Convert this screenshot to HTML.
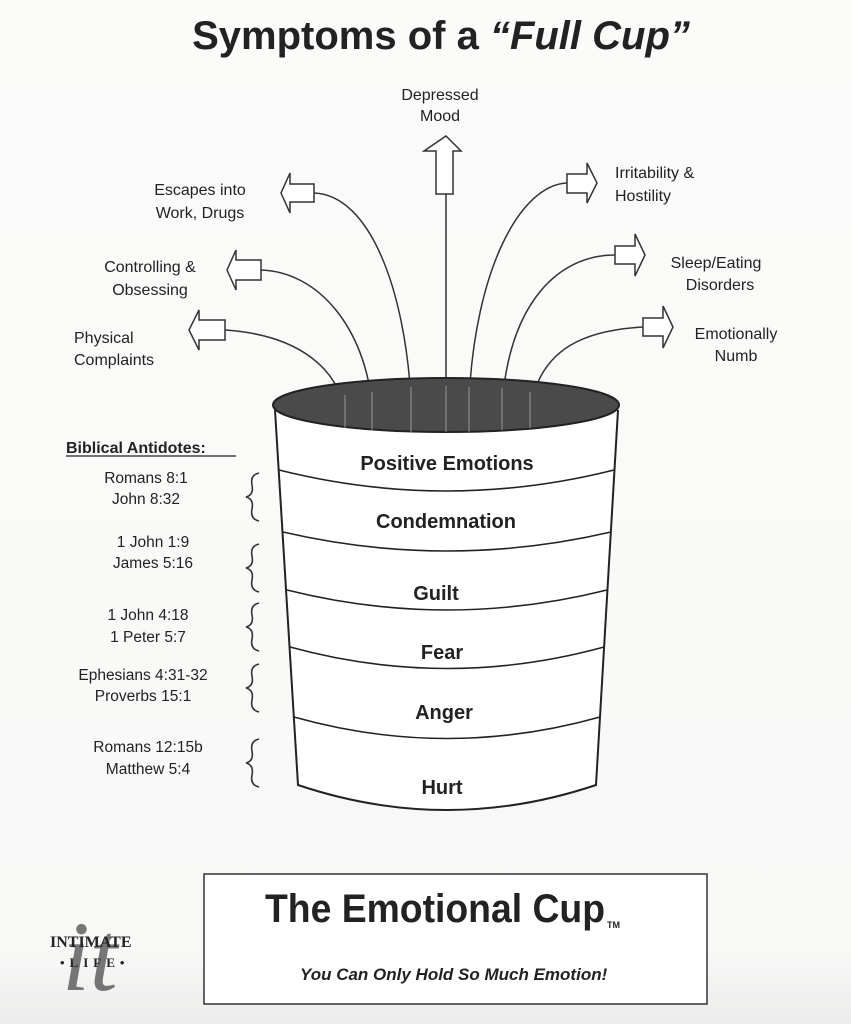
<!DOCTYPE html>
<html><head><meta charset="utf-8"><style>
html,body{margin:0;padding:0;background:#fbfbfa;}
svg{display:block;}
text{font-family:"Liberation Sans",Arial,sans-serif;fill:#222;}
</style></head><body>
<svg width="851" height="1024" viewBox="0 0 851 1024" xmlns="http://www.w3.org/2000/svg">
<defs><linearGradient id="bg" x1="0" y1="0" x2="0" y2="1"><stop offset="0" stop-color="#fbfbfa"/><stop offset="0.93" stop-color="#f8f8f7"/><stop offset="1" stop-color="#ececeb"/></linearGradient></defs>
<rect width="851" height="1024" fill="url(#bg)"/>
<text x="441" y="49" font-size="40" font-weight="bold" text-anchor="middle">Symptoms of a <tspan font-style="italic">“Full Cup”</tspan></text>

<g font-size="16" fill="#222">
<text x="440" y="100" text-anchor="middle">Depressed</text>
<text x="440" y="121" text-anchor="middle">Mood</text>
<text x="200" y="195" text-anchor="middle">Escapes into</text>
<text x="200" y="218" text-anchor="middle">Work, Drugs</text>
<text x="150" y="272" text-anchor="middle">Controlling &amp;</text>
<text x="150" y="295" text-anchor="middle">Obsessing</text>
<text x="74" y="343">Physical</text>
<text x="74" y="365">Complaints</text>
<text x="615" y="178">Irritability &amp;</text>
<text x="615" y="201">Hostility</text>
<text x="716" y="268" text-anchor="middle">Sleep/Eating</text>
<text x="720" y="290" text-anchor="middle">Disorders</text>
<text x="736" y="339" text-anchor="middle">Emotionally</text>
<text x="736" y="361" text-anchor="middle">Numb</text>
</g>

<g fill="none" stroke="#333" stroke-width="1.5">
<path d="M314,193 C370,195 405,290 411,400"/>
<path d="M261,270 C320,272 365,330 372,405"/>
<path d="M225,330 C300,335 340,370 345,415"/>
<path d="M446,194 L446,415"/>
<path d="M567,183 C520,185 475,270 469,400"/>
<path d="M615,255 C560,255 510,300 502,405"/>
<path d="M643,327 C590,330 540,345 530,410"/>
</g>
<g fill="#fff" stroke="#333" stroke-width="1.5">
<path d="M314,184 L290,184 L290,173 L281,193 L290,213 L290,202 L314,202 Z"/>
<path d="M261,260 L236,260 L236,250 L227,270 L236,290 L236,280 L261,280 Z"/>
<path d="M225,320 L199,320 L199,310 L189,330 L199,350 L199,340 L225,340 Z"/>
<path d="M436,194 L436,151 L424,151 L446,136 L461,151 L453,151 L453,194 Z"/>
<path d="M567,174 L587,174 L587,163 L597,183 L587,203 L587,193 L567,193 Z"/>
<path d="M615,246 L635,246 L635,234 L645,255 L635,276 L635,264 L615,264 Z"/>
<path d="M643,318 L663,318 L663,306 L673,327 L663,348 L663,336 L643,336 Z"/>
</g>

<path d="M275,410 L298,785 Q447,835 596,785 L618,410" fill="#fff" stroke="#222" stroke-width="2"/>
<ellipse cx="446" cy="405" rx="173" ry="27" fill="#4a4a4a" stroke="#222" stroke-width="2"/>
<g stroke="#9a9a9a" stroke-width="1.2" opacity="0.8">
<path d="M345,395 V428 M372,392 V430 M411,387 V432 M446,386 V432 M469,387 V432 M502,388 V430 M530,392 V428"/>
</g>
<g fill="none" stroke="#222" stroke-width="1.6">
<path d="M279,470 Q447,512 614,470"/>
<path d="M283,532 Q447,570 611,532"/>
<path d="M287,590 Q447,630 607,590"/>
<path d="M290,647 Q447,690 604,647"/>
<path d="M294,717 Q447,760 600,717"/>
</g>
<g font-size="20" font-weight="bold" text-anchor="middle">
<text x="447" y="470">Positive  Emotions</text>
<text x="446" y="528">Condemnation</text>
<text x="436" y="600">Guilt</text>
<text x="442" y="659">Fear</text>
<text x="444" y="719">Anger</text>
<text x="442" y="794">Hurt</text>
</g>

<text x="66" y="453" font-size="16" font-weight="bold">Biblical Antidotes:</text>
<line x1="66" y1="456" x2="236" y2="456" stroke="#222" stroke-width="1.2"/>
<g font-size="15.5" text-anchor="middle">
<text x="146" y="483">Romans 8:1</text>
<text x="146" y="504">John 8:32</text>
<text x="153" y="547">1 John 1:9</text>
<text x="153" y="568">James 5:16</text>
<text x="148" y="620">1 John 4:18</text>
<text x="148" y="642">1 Peter 5:7</text>
<text x="143" y="680">Ephesians 4:31-32</text>
<text x="143" y="701">Proverbs 15:1</text>
<text x="148" y="752">Romans 12:15b</text>
<text x="148" y="774">Matthew 5:4</text>
</g>
<g fill="none" stroke="#333" stroke-width="1.6">
<path d="M259,473 Q250,475 252,485 Q254,495 246,497 Q254,499 252,509 Q250,519 259,521"/>
<path d="M259,544 Q250,546 252,556 Q254,566 246,568 Q254,570 252,580 Q250,590 259,592"/>
<path d="M259,603 Q250,605 252,615 Q254,625 246,627 Q254,629 252,639 Q250,649 259,651"/>
<path d="M259,664 Q250,666 252,676 Q254,686 246,688 Q254,690 252,700 Q250,710 259,712"/>
<path d="M259,739 Q250,741 252,751 Q254,761 246,763 Q254,765 252,775 Q250,785 259,787"/>
</g>

<rect x="204" y="874" width="503" height="130" fill="#fff" stroke="#333" stroke-width="1.5"/>
<text x="265" y="922" font-size="40" font-weight="bold" fill="#2a2a2a" textLength="340" lengthAdjust="spacingAndGlyphs">The Emotional Cup</text>
<text x="607" y="928" font-size="9" font-weight="bold" fill="#2a2a2a">TM</text>
<text x="300" y="980" font-size="17" font-weight="bold" font-style="italic" fill="#2a2a2a">You Can Only Hold So Much Emotion!</text>

<text x="62" y="990" font-size="100" font-style="italic" fill="#888" style="font-family:'Liberation Serif',serif" opacity="0.6">it</text>
<text x="50" y="947" font-size="16" font-weight="bold" fill="#333" style="font-family:'Liberation Serif',serif">INTIMATE</text>
<text x="60" y="967" font-size="13" font-weight="bold" fill="#333" letter-spacing="5" style="font-family:'Liberation Serif',serif">•LIFE•</text>
</svg>
</body></html>
